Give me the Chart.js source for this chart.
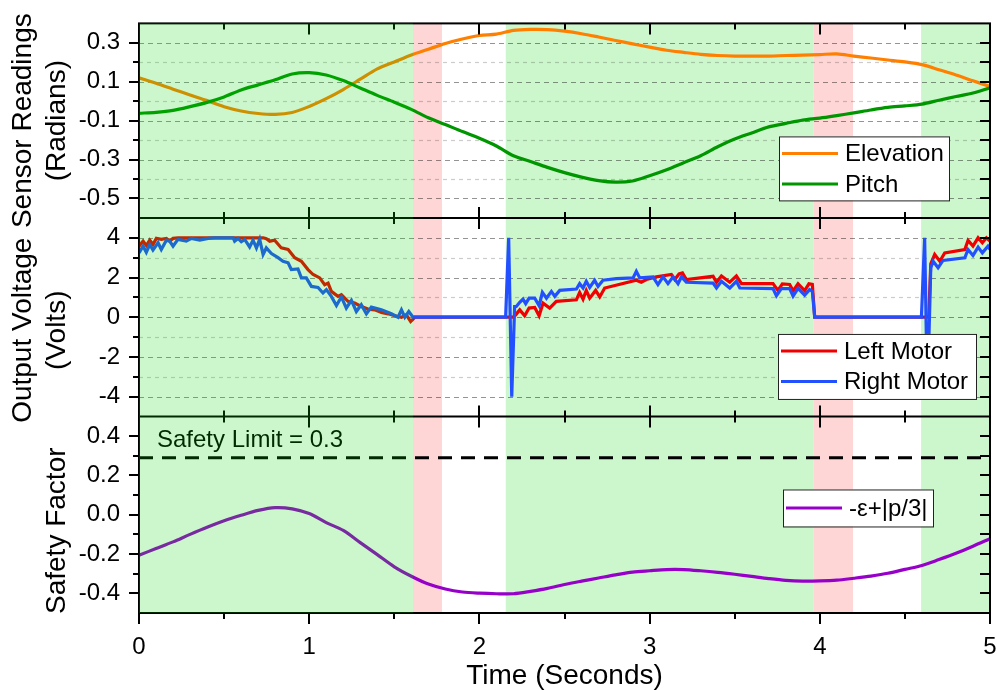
<!DOCTYPE html>
<html>
<head>
<meta charset="utf-8">
<script src="https://cdn.jsdelivr.net/npm/chart.js@4.4.0/dist/chart.umd.min.js"></script>
<style>
  html, body { margin: 0; padding: 0; background: #fff; }
  canvas { display: block; }
</style>
</head>
<body>
<canvas id="flightChart" width="997" height="690"></canvas>
<script>
// Data
const timeGrid = [0, 0.1, 0.2, 0.3, 0.4, 0.5, 0.6, 0.7, 0.8, 0.9, 1.0, 1.1, 1.2, 1.3, 1.4, 1.5, 1.6, 1.7, 1.8, 1.9,
  2.0, 2.1, 2.2, 2.3, 2.4, 2.5, 2.6, 2.7, 2.8, 2.9, 3.0, 3.1, 3.2, 3.3, 3.4, 3.5, 3.6, 3.7, 3.8, 3.9,
  4.0, 4.1, 4.2, 4.3, 4.4, 4.5, 4.6, 4.7, 4.8, 4.9, 5.0];
const elevation = [0.12, 0.092, 0.062, 0.032, 0.003, -0.028, -0.05, -0.063, -0.068, -0.058,
  -0.027, 0.013, 0.06, 0.113, 0.166, 0.202, 0.238, 0.267, 0.297, 0.32,
  0.338, 0.345, 0.364, 0.369, 0.368, 0.36, 0.347, 0.33, 0.312, 0.295,
  0.278, 0.262, 0.251, 0.241, 0.235, 0.232, 0.232, 0.232, 0.235, 0.237,
  0.24, 0.243, 0.232, 0.222, 0.212, 0.202, 0.188, 0.162, 0.135, 0.105, 0.076];
const pitch = [-0.062, -0.057, -0.047, -0.028, -0.006, 0.022, 0.058, 0.084, 0.11, 0.14,
  0.147, 0.135, 0.106, 0.068, 0.03, -0.005, -0.042, -0.085, -0.12, -0.156,
  -0.19, -0.23, -0.28, -0.31, -0.34, -0.367, -0.39, -0.408, -0.416, -0.41,
  -0.383, -0.352, -0.316, -0.28, -0.234, -0.194, -0.163, -0.132, -0.114, -0.097,
  -0.087, -0.074, -0.06, -0.045, -0.032, -0.024, -0.015, 0.005, 0.024, 0.042, 0.069];
const safetyFactor = [-0.206, -0.172, -0.138, -0.1, -0.064, -0.031, -0.003, 0.022, 0.036, 0.03,
  0.006, -0.04, -0.08, -0.142, -0.203, -0.265, -0.313, -0.353, -0.378, -0.393,
  -0.399, -0.402, -0.402, -0.39, -0.375, -0.355, -0.338, -0.322, -0.306, -0.292,
  -0.285, -0.279, -0.279, -0.285, -0.293, -0.303, -0.314, -0.325, -0.334, -0.338,
  -0.337, -0.333, -0.323, -0.312, -0.298, -0.278, -0.258, -0.228, -0.196, -0.16, -0.122];
const safetyLimit = 0.29;

const leftTime = [0, 0.024, 0.043, 0.063, 0.082, 0.102, 0.131, 0.161, 0.18, 0.2,
  0.23, 0.73, 0.748, 0.768, 0.797, 0.836, 0.876, 0.915, 0.954, 0.993,
  1.023, 1.062, 1.091, 1.111, 1.13, 1.169, 1.189, 1.228, 1.267, 1.306,
  1.346, 1.385, 1.424, 1.464, 1.503, 1.542, 1.571, 1.596, 1.61, 1.62,
  2.2, 2.213, 2.237, 2.266, 2.292, 2.325, 2.351, 2.374, 2.413, 2.452,
  2.57, 2.589, 2.609, 2.628, 2.648, 2.683, 2.707, 2.736, 2.922, 2.951,
  2.981, 3.039, 3.128, 3.148, 3.173, 3.193, 3.216, 3.373, 3.393, 3.422,
  3.471, 3.51, 3.54, 3.725, 3.754, 3.78, 3.823, 3.843, 3.872, 3.911,
  3.936, 3.956, 3.97, 4.64, 4.652, 4.675, 4.705, 4.734, 4.852, 4.871,
  4.9, 4.93, 4.955, 4.979, 5.0];
const leftVolts = [3.58, 3.83, 3.61, 3.88, 3.66, 3.97, 3.92, 3.97, 3.83, 3.97,
  4.0, 4.0, 3.95, 3.83, 3.88, 3.49, 3.41, 3.0, 2.82, 2.4,
  2.15, 1.98, 1.64, 1.72, 1.3, 1.05, 1.13, 0.8, 0.71, 0.54,
  0.41, 0.37, 0.24, 0.17, 0.07, 0, 0.12, -0.22, -0.1, 0,
  0, 0.12, 0.37, 0.07, 0.46, 0.49, 0.07, 0.71, 0.46, 0.8,
  0.88, 1.25, 0.91, 1.35, 0.96, 1.35, 1.02, 1.47, 1.86, 1.76,
  1.9, 2.03, 2.15, 1.9, 2.18, 2.23, 1.9, 2.06, 1.76, 2.08,
  1.76, 2.08, 1.69, 1.69, 1.35, 1.68, 1.65, 1.33, 1.68, 1.34,
  1.68, 1.65, 0, 0, 2.69, 3.16, 2.82, 3.24, 3.41, 3.87,
  3.58, 4.0, 3.75, 4.0, 3.83];

const rightTime = [0, 0.024, 0.043, 0.063, 0.082, 0.112, 0.131, 0.161, 0.18, 0.2,
  0.229, 0.278, 0.308, 0.357, 0.406, 0.445, 0.553, 0.562, 0.582, 0.601,
  0.621, 0.65, 0.67, 0.69, 0.709, 0.729, 0.748, 0.778, 0.817, 0.846,
  0.876, 0.895, 0.934, 0.954, 0.983, 1.013, 1.052, 1.081, 1.101, 1.13,
  1.16, 1.189, 1.218, 1.248, 1.277, 1.306, 1.336, 1.365, 1.424, 1.483,
  1.522, 1.542, 1.562, 1.585, 1.61, 2.154, 2.172, 2.19, 2.207, 2.217,
  2.237, 2.256, 2.272, 2.292, 2.325, 2.351, 2.37, 2.394, 2.423, 2.443,
  2.472, 2.57, 2.589, 2.609, 2.628, 2.648, 2.677, 2.697, 2.726, 2.805,
  2.903, 2.922, 2.942, 3.02, 3.049, 3.079, 3.108, 3.138, 3.167, 3.187,
  3.216, 3.373, 3.393, 3.422, 3.471, 3.51, 3.53, 3.725, 3.745, 3.774,
  3.823, 3.843, 3.872, 3.911, 3.94, 3.956, 3.97, 4.597, 4.616, 4.632,
  4.652, 4.666, 4.695, 4.724, 4.852, 4.871, 4.9, 4.93, 4.955, 4.988, 5.0];
const rightVolts = [3.24, 3.58, 3.27, 3.66, 3.38, 3.75, 3.41, 3.88, 3.83, 3.58,
  3.92, 3.83, 3.97, 3.88, 3.97, 4.0, 4.0, 3.83, 3.97, 3.8,
  3.92, 3.54, 3.88, 3.49, 3.92, 3.16, 3.49, 3.21, 3.0, 2.82,
  2.74, 2.4, 2.43, 1.98, 1.98, 1.55, 1.5, 1.22, 1.39, 1.05,
  0.59, 1.02, 0.46, 0.85, 0.29, 0.63, 0.17, 0.51, 0.37, 0.17,
  0, 0.37, 0, 0.29, 0, 0, 4.0, -4.0, 0.54, 0.54,
  0.75, 0.91, 0.68, 0.96, 0.96, 0.58, 1.25, 0.96, 1.3, 1.05,
  1.35, 1.42, 1.69, 1.47, 1.81, 1.5, 1.86, 1.55, 1.86, 1.94,
  1.98, 2.31, 1.98, 2.03, 1.64, 2.03, 1.69, 2.03, 1.69, 2.03,
  1.76, 1.72, 1.47, 1.81, 1.47, 1.81, 1.47, 1.44, 1.08, 1.44,
  1.44, 1.06, 1.45, 1.11, 1.39, 1.31, 0, 0, 4.0, -4.0,
  2.49, 2.82, 2.49, 2.86, 2.99, 3.41, 3.11, 3.53, 3.24, 3.58, 3.41];

// flight phases shaded behind the traces
const phaseEdges = [0, 1.61, 1.78, 2.155, 3.965, 4.195, 4.595, 5];
const phaseKinds = ['safe', 'alert', 'idle', 'safe', 'alert', 'idle', 'safe'];

// tick labels
const timeTicks = [0, 1, 2, 3, 4, 5];
const timeMinor = [0.5, 1.5, 2.5, 3.5, 4.5];
const radTicks = [-0.5, -0.3, -0.1, 0.1, 0.3];
const radMinor = [-0.4, -0.2, 0, 0.2];
const voltTicks = [-4, -2, 0, 2, 4];
const voltMinor = [-3, -1, 1, 3];
const safetyTicks = [-0.4, -0.2, 0, 0.2, 0.4];
const safetyMinor = [-0.3, -0.1, 0.1, 0.3];

const FONT = "'Liberation Sans', Arial, Helvetica, sans-serif";
const GREEN_BAND = 'rgba(0,210,0,0.2)';
const PINK_BAND = 'rgb(255,214,214)';
Chart.defaults.font.family = FONT;
Chart.defaults.color = '#000';

function xy(ts, vs) {
  return ts.map((t, i) => ({ x: t, y: vs[i] }));
}

function yAxis(min, max, ticks, weight, digits) {
  return {
    type: 'linear', position: 'left', stack: 'panels', stackWeight: weight,
    min: min, max: max,
    afterBuildTicks: s => { s.ticks = ticks.map(v => ({ value: v })); },
    afterFit: s => { s.width = 139; },
    grid: { drawOnChartArea: false, drawTicks: true, tickLength: 10, tickColor: 'rgba(0,0,0,0)' },
    border: { display: false },
    ticks: { font: { size: 24 }, padding: 9, color: '#000', autoSkip: false,
      callback: v => Number(v).toFixed(digits) }
  };
}

function line(label, data, axis, color, extra) {
  return Object.assign({
    label: label, data: data, yAxisID: axis, borderColor: color, backgroundColor: color,
    borderWidth: 3.2, pointRadius: 0, fill: false, tension: 0
  }, extra || {});
}

// panel titles and legends, drawn on top of the chart area
const panelTitles = [
  { axis: 'yRad', lines: ['Sensor Readings', '(Radians)'], shift: 0 },
  { axis: 'yVolt', lines: ['Output Voltage', '(Volts)'], shift: 13 },
  { axis: 'ySafe', lines: ['', 'Safety Factor'], shift: 16 }
];
const panelLegends = [
  { axis: 'yRad', dx: 640, dy: 113, w: 170, h: 64, items: ['Elevation', 'Pitch'] },
  { axis: 'yVolt', dx: 639, dy: 116, w: 198, h: 65, items: ['Left Motor', 'Right Motor'] },
  { axis: 'ySafe', dx: 644, dy: 73, w: 150, h: 37, items: ['-ε+|p/3|'] }
];

function hline(ctx, x0, x1, y) {
  ctx.beginPath(); ctx.moveTo(x0, y); ctx.lineTo(x1, y); ctx.stroke();
}
function vline(ctx, x, y0, y1) {
  ctx.beginPath(); ctx.moveTo(x, y0); ctx.lineTo(x, y1); ctx.stroke();
}

function drawGrid(ctx, scale, a, major, minor) {
  ctx.lineWidth = 1.2;
  ctx.strokeStyle = 'rgba(0,0,0,0.42)';
  ctx.setLineDash([5, 4]);
  major.forEach(v => hline(ctx, a.left, a.right, Math.round(scale.getPixelForValue(v)) + 0.5));
  ctx.strokeStyle = 'rgba(0,0,0,0.2)';
  ctx.setLineDash([4, 4]);
  minor.forEach(v => hline(ctx, a.left, a.right, Math.round(scale.getPixelForValue(v)) + 0.5));
  ctx.setLineDash([]);
}

function fillPhase(ctx, chart, i, color) {
  const a = chart.chartArea, x = chart.scales.x;
  const x0 = x.getPixelForValue(phaseEdges[i]);
  const x1 = x.getPixelForValue(phaseEdges[i + 1]);
  ctx.fillStyle = color;
  ctx.fillRect(x0, a.top, x1 - x0, a.bottom - a.top);
}

const panelPlugin = {
  id: 'panels',
  beforeDatasetsDraw(chart) {
    const { ctx, chartArea: a, scales } = chart;
    ctx.save();
    // phase 0 is painted over the traces afterwards (as in the original figure)
    for (let i = 1; i < phaseKinds.length; i++) {
      if (phaseKinds[i] === 'safe') fillPhase(ctx, chart, i, GREEN_BAND);
      if (phaseKinds[i] === 'alert') fillPhase(ctx, chart, i, PINK_BAND);
    }
    if (phaseKinds[0] === 'alert') fillPhase(ctx, chart, 0, PINK_BAND);
    drawGrid(ctx, scales.yRad, a, radTicks, radMinor);
    drawGrid(ctx, scales.yVolt, a, voltTicks, voltMinor);
    ctx.restore();
  },
  afterDatasetsDraw(chart) {
    const { ctx, chartArea: a, scales } = chart;
    const x = scales.x;
    const panels = [
      [scales.yRad, radTicks, radMinor],
      [scales.yVolt, voltTicks, voltMinor],
      [scales.ySafe, safetyTicks, safetyMinor]
    ];
    ctx.save();
    ctx.strokeStyle = '#000';
    ctx.lineWidth = 2;
    ctx.strokeRect(a.left, a.top, a.right - a.left, a.bottom - a.top);
    hline(ctx, a.left, a.right, scales.yVolt.top);
    hline(ctx, a.left, a.right, scales.yVolt.bottom);

    panels.forEach(([s, major, minor], k) => {
      const last = k === panels.length - 1;
      timeTicks.concat(timeMinor).forEach(v => {
        const len = timeTicks.includes(v) ? 11 : 6;
        const px = Math.round(x.getPixelForValue(v));
        vline(ctx, px, s.top, s.top + len);
        if (last) vline(ctx, px, s.bottom, s.bottom + len);
        else vline(ctx, px, s.bottom - len, s.bottom);
      });
      major.forEach(v => {
        const py = Math.round(s.getPixelForValue(v));
        hline(ctx, a.left - 10, a.left, py);
        hline(ctx, a.right - 10, a.right, py);
      });
      minor.forEach(v => {
        const py = Math.round(s.getPixelForValue(v));
        hline(ctx, a.left - 6, a.left, py);
        hline(ctx, a.right - 10, a.right, py);
      });
    });

    // y titles
    ctx.fillStyle = '#000';
    ctx.font = '28px ' + FONT;
    ctx.textAlign = 'center';
    ctx.textBaseline = 'middle';
    panelTitles.forEach(t => {
      const s = scales[t.axis];
      const cy = (s.top + s.bottom) / 2 + t.shift;
      t.lines.forEach((txt, j) => {
        ctx.save();
        ctx.translate(23 + j * 34, cy);
        ctx.rotate(-Math.PI / 2);
        ctx.fillText(txt, 0, 0);
        ctx.restore();
      });
    });

    ctx.font = '24px ' + FONT;
    ctx.textAlign = 'left';
    ctx.fillText('Safety Limit = 0.3', a.left + 18, scales.ySafe.top + 24);

    // first phase shading lies on top of everything inside the plot
    if (phaseKinds[0] === 'safe') fillPhase(ctx, chart, 0, GREEN_BAND);

    // legends
    panelLegends.forEach(l => {
      const s = scales[l.axis];
      const bx = a.left + l.dx, by = s.top + l.dy;
      ctx.fillStyle = '#fff';
      ctx.fillRect(bx, by, l.w, l.h);
      ctx.strokeStyle = '#222';
      ctx.lineWidth = 1;
      ctx.strokeRect(bx + 0.5, by + 0.5, l.w, l.h);
      l.items.forEach((name, j) => {
        const ds = chart.data.datasets.find(d => d.label === name);
        const ry = by + (l.items.length === 1 ? l.h / 2 : 17 + j * 30.5);
        ctx.strokeStyle = ds.borderColor;
        ctx.lineWidth = 3;
        hline(ctx, bx + 3, bx + 59, ry);
        ctx.fillStyle = '#000';
        ctx.fillText(name, bx + 66, ry + 1);
      });
    });
    ctx.restore();
  }
};

new Chart(document.getElementById('flightChart'), {
  type: 'line',
  data: {
    datasets: [
      line('Right Motor', xy(rightTime, rightVolts), 'yVolt', 'rgb(35,80,255)'),
      line('Left Motor', xy(leftTime, leftVolts), 'yVolt', 'rgb(240,0,0)'),
      line('Pitch', xy(timeGrid, pitch), 'yRad', 'rgb(0,150,0)', { tension: 0.3 }),
      line('Elevation', xy(timeGrid, elevation), 'yRad', 'rgb(255,128,0)', { tension: 0.3 }),
      line('Safety Limit', [{ x: 0, y: safetyLimit }, { x: 5, y: safetyLimit }], 'ySafe', '#000',
        { borderDash: [14, 9] }),
      line('-ε+|p/3|', xy(timeGrid, safetyFactor), 'ySafe', 'rgb(150,0,200)', { tension: 0.3 })
    ]
  },
  options: {
    responsive: false,
    animation: false,
    devicePixelRatio: 1,
    layout: { padding: { top: 19, right: 7, left: 0, bottom: 0 } },
    plugins: { legend: { display: false }, tooltip: { enabled: false } },
    scales: {
      x: {
        type: 'linear', position: 'bottom', min: 0, max: 5,
        afterBuildTicks: s => { s.ticks = timeTicks.map(v => ({ value: v })); },
        afterFit: s => { s.height = 77; s.paddingLeft = 0; s.paddingRight = 0; },
        grid: { drawOnChartArea: false, drawTicks: true, tickLength: 11, tickColor: 'rgba(0,0,0,0)' },
        border: { display: false },
        ticks: { font: { size: 24 }, padding: 9, maxRotation: 0, color: '#000', autoSkip: false },
        title: { display: true, text: 'Time (Seconds)', font: { size: 28, lineHeight: 1 },
          padding: { top: 0, bottom: 0 }, color: '#000' }
      },
      ySafe: yAxis(-0.5, 0.5, safetyTicks, 198, 1),
      yVolt: yAxis(-5, 5, voltTicks, 200, 0),
      yRad: yAxis(-0.6, 0.4, radTicks, 196, 1)
    }
  },
  plugins: [panelPlugin]
});
</script>
</body>
</html>
